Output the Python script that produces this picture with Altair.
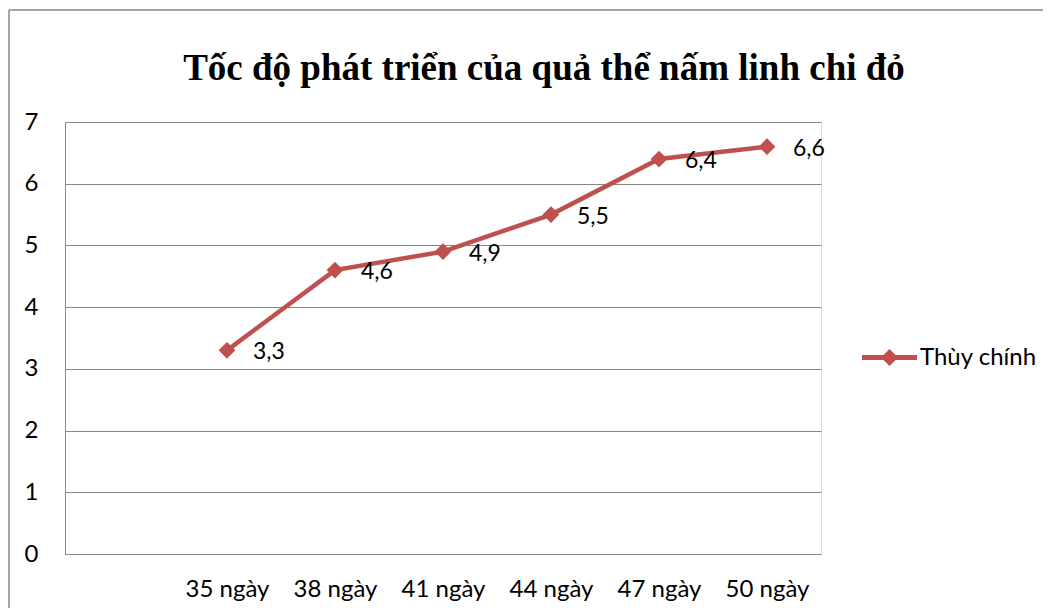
import altair as alt
import pandas as pd

# ---- data ----
categories = ["35 ngày", "38 ngày", "41 ngày", "44 ngày", "47 ngày", "50 ngày"]
values = [3.3, 4.6, 4.9, 5.5, 6.4, 6.6]
series_name = "Thùy chính"
y_ticks = [0, 1, 2, 3, 4, 5, 6, 7]
title_text = "Tốc độ phát triển của quả thể nấm linh chi đỏ"

RED = "#C0504D"
GRAY = "#878787"
FONT = "Lato"

df = pd.DataFrame({"day": categories, "value": values, "series": [series_name] * len(categories)})
one = pd.DataFrame({"k": [0]})

W, H = 756, 432

x_enc = alt.X(
    "day:N",
    sort=categories,
    scale=alt.Scale(type="point", padding=1, align=0.75),
    axis=alt.Axis(title=None, labelAngle=0, ticks=False, grid=False, domain=True,
                  domainColor=GRAY, domainWidth=1, labelFont=FONT, labelFontSize=24,
                  labelColor="black", labelPadding=23),
)
y_enc = alt.Y(
    "value:Q",
    scale=alt.Scale(domain=[0, 7], nice=False, zero=True),
    axis=alt.Axis(title=None, values=y_ticks, format="d", ticks=False, grid=True,
                  gridColor=GRAY, gridWidth=1, domain=True, domainColor=GRAY,
                  domainWidth=1, labelFont=FONT, labelFontSize=24, labelColor="black",
                  labelPadding=27),
)

base = alt.Chart(df).encode(x=x_enc, y=y_enc)

line = base.mark_line(color=RED, strokeWidth=4.5)

LEGEND_PATH = "M-1,-0.09L1,-0.09L1,0.09L-1,0.09Z M0,-0.31L0.31,0L0,0.31L-0.31,0Z"

points = base.mark_point(shape="diamond", filled=True, size=280, opacity=1).encode(
    color=alt.Color(
        "series:N",
        scale=alt.Scale(domain=[series_name], range=[RED]),
        legend=alt.Legend(title=None, orient="none", legendX=797, legendY=208,
                          symbolType=LEGEND_PATH, symbolSize=3025, symbolStrokeWidth=0,
                          labelFont=FONT, labelFontSize=24, labelColor="black",
                          labelOffset=3, padding=0),
    )
)

labels = base.transform_calculate(
    label="replace(format(datum.value, '.1f'), '.', ',')"
).mark_text(align="left", baseline="middle", dx=26, dy=2, font=FONT, fontSize=23,
            color="black").encode(text="label:N")

border_left = alt.Chart(one).mark_rule(color=GRAY, strokeWidth=1.5).encode(
    x=alt.value(-56), y=alt.value(-112), y2=alt.value(486))
border_top = alt.Chart(one).mark_rule(color=GRAY, strokeWidth=1.5).encode(
    x=alt.value(-56), x2=alt.value(979), y=alt.value(-112))

chart = alt.layer(border_left, border_top, line, points, labels).properties(
    width=W,
    height=H,
    title=alt.Title(text=title_text, font="Liberation Serif", fontSize=37,
                    fontWeight="bold", color="black", anchor="middle", frame="group",
                    dx=101, offset=-108, baseline="alphabetic"),
    autosize=alt.AutoSizeParams(type="none"),
    padding={"left": 57, "top": 114, "right": 222, "bottom": 54},
).configure_view(strokeWidth=0).configure(background="white")

chart.save("out.html", embed_options={"renderer": "svg", "actions": False})
